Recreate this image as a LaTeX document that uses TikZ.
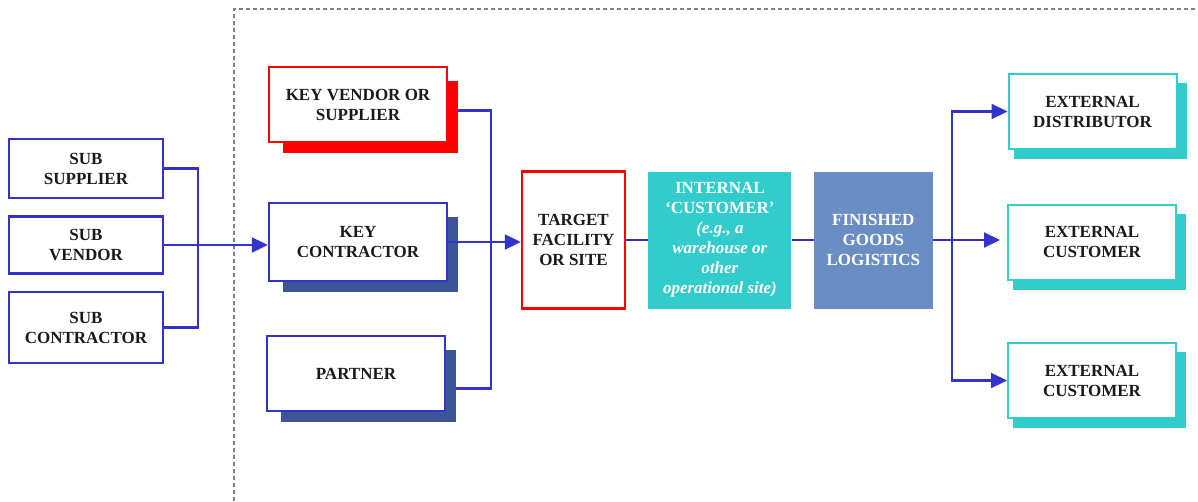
\documentclass[tikz,border=0pt]{standalone}
\usepackage{fontspec}
\setmainfont{Liberation Serif}
\usetikzlibrary{arrows.meta,positioning,calc,backgrounds}
\definecolor{wire}{HTML}{3333CC}
\definecolor{keyred}{HTML}{FF0000}
\definecolor{keyblue}{HTML}{3B5598}
\definecolor{aqua}{HTML}{33CCCC}
\definecolor{slate}{HTML}{6A8EC4}
\definecolor{ink}{HTML}{1A1A1A}
\definecolor{rule}{HTML}{808080}

\begin{document}
\begin{tikzpicture}[x=1pt,y=-1pt,
  node distance=22pt,
  font=\fontsize{17}{20}\selectfont\bfseries,
  box/.style={draw=wire,line width=2.4pt,fill=white,align=center,text=ink,inner sep=0pt},
  subbox/.style={box,minimum width=154pt},
  keybox/.style={box,minimum width=178pt,minimum height=75pt},
  extbox/.style={box,draw=aqua,line width=2pt,minimum width=168pt,minimum height=75pt},
  solid/.style={fill=#1,text=white,align=center,inner sep=0pt,minimum height=137pt},
  link/.style={draw=wire,line width=2.1pt},
  arrow/.style={link,-{Triangle[length=16pt,width=15pt]}}]
\useasboundingbox (0,0) rectangle (1198,501);
\draw[rule,line width=1.2pt,dash pattern=on 4pt off 3pt] (234,501) |- (1198,9);

% suppliers of the key partners
\node[subbox,minimum height=59pt] (ssup) at (86,168.5) {SUB\\SUPPLIER};
\node[subbox,minimum height=57pt] (sven) at (86,245) {SUB\\VENDOR};
\node[subbox,minimum height=71pt] (scon) at (86,327.5) {SUB\\CONTRACTOR};

% key partners
\node[keybox,draw=keyred] (kvend) at (358,104.5) {KEY VENDOR OR\\SUPPLIER};
\node[keybox,minimum height=78pt] (kcon) at (358,242) {KEY\\CONTRACTOR};
\node[keybox] (partner) at (356,373.5) {PARTNER};

% main chain
\node[box,draw=keyred,minimum width=103pt,minimum height=137pt] (tgt) at (573.5,240) {TARGET\\FACILITY\\OR SITE};
\node[solid=aqua,minimum width=143pt,right=of tgt] (intl) {INTERNAL\\‘CUSTOMER’\\\textit{(e.g., a}\\\textit{warehouse or}\\\textit{other}\\\textit{operational site)}};
\node[solid=slate,minimum width=119pt,right=of intl] (fin) {FINISHED\\GOODS\\LOGISTICS};

% customers
\node[extbox] (edist) at (1092.5,111.5) {EXTERNAL\\DISTRIBUTOR};
\node[extbox] (ecus1) at (1092,242) {EXTERNAL\\CUSTOMER};
\node[extbox] (ecus2) at (1092,380.5) {EXTERNAL\\CUSTOMER};

\begin{pgfonlayer}{background}
\foreach \n/\c in {kvend/keyred,kcon/keyblue,partner/keyblue}
  \fill[\c] ($(\n.south west)+(15,10)$) rectangle ($(\n.north east)+(10,15)$);
\foreach \n in {edist,ecus1,ecus2}
  \fill[aqua] ($(\n.south west)+(6,9)$) rectangle ($(\n.north east)+(9,10)$);
\end{pgfonlayer}

\coordinate (jl) at (198,245);
\coordinate (jk) at (491,242);
\coordinate (jr) at (952,240);
\draw[link] (ssup.east) -| (jl) |- (scon.east);
\draw[arrow] (sven.east) -- (sven.east -| kcon.west);
\draw[link] ($(kvend.east)+(10,6)$) -| (jk) |- ($(partner.east)+(10,15)$);
\draw[arrow] (kcon.east) -- (kcon.east -| tgt.west);
\draw[link] (tgt) -- (intl);
\draw[link] (intl) -- (fin);
\draw[arrow,shorten >=7pt] (fin.east) -- (fin.east -| ecus1.west);
\draw[arrow] (jr) |- (edist.west);
\draw[arrow] (jr) |- (ecus2.west);
\end{tikzpicture}
\end{document}
